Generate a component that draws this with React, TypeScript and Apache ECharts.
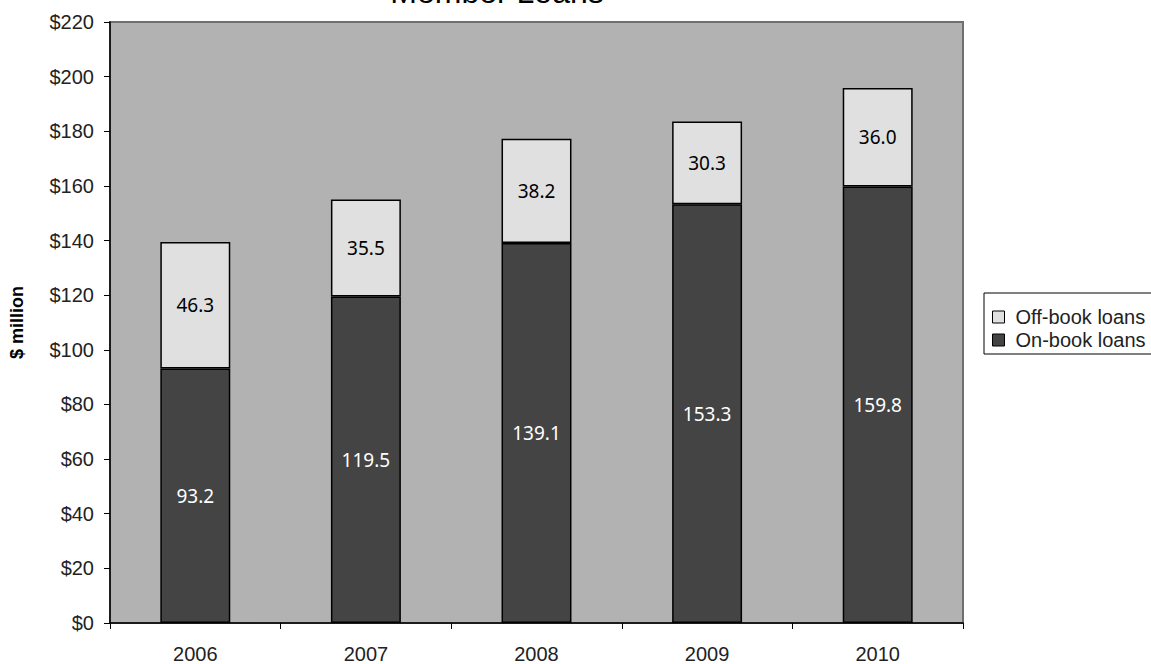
import React, { useEffect, useRef } from "react";
import * as echarts from "echarts";

const years = ["2006", "2007", "2008", "2009", "2010"];
const onBook = [93.2, 119.5, 139.1, 153.3, 159.8];
const offBook = [46.3, 35.5, 38.2, 30.3, 36.0];
const yTicks = { min: 0, max: 220, interval: 20 };

export default function App() {
  const ref = useRef<HTMLDivElement>(null);
  useEffect(() => {
    if (!ref.current) return;
    const chart = echarts.init(ref.current, null, { renderer: "svg" });
    const axisFont = "'Liberation Sans', Arial, sans-serif";
    const labelFont = "'Noto Sans', sans-serif";
    chart.setOption({
      animation: false,
      backgroundColor: "#ffffff",
      graphic: [
        {
          type: "text",
          x: 497,
          y: -8,
          style: {
            text: "Member Loans",
            fontSize: 32,
            fontFamily: axisFont,
            fill: "#000",
            textAlign: "center",
            textVerticalAlign: "middle",
          },
        },
      ],
      legend: {
        orient: "vertical",
        left: 984,
        top: 293,
        data: ["Off-book loans", "On-book loans"],
        borderColor: "#000",
        borderWidth: 1,
        padding: [14, 8, 4, 8],
        itemWidth: 12,
        itemHeight: 12,
        itemGap: 3,
        icon: "rect",
        itemStyle: { borderColor: "#000", borderWidth: 1 },
        textStyle: {
          fontSize: 20,
          fontFamily: axisFont,
          color: "#222",
          lineHeight: 20,
          padding: [0, 0, 0, 6],
        },
      },
      grid: {
        left: 106,
        top: 22,
        right: 188,
        bottom: 40,
        show: true,
        backgroundColor: "#b2b2b2",
        borderColor: "#6f6f6f",
        borderWidth: 2,
      },
      xAxis: {
        type: "category",
        data: years,
        axisLine: { lineStyle: { color: "#000", width: 1.5 } },
        axisTick: { show: true, length: 6, alignWithLabel: false, lineStyle: { color: "#000" } },
        axisLabel: { fontSize: 20, fontFamily: axisFont, color: "#222", margin: 21 },
      },
      yAxis: {
        type: "value",
        min: yTicks.min,
        max: yTicks.max,
        interval: yTicks.interval,
        name: "$ million",
        nameLocation: "middle",
        nameRotate: 90,
        nameGap: 84,
        nameTextStyle: { fontSize: 18, fontWeight: "bold", fontFamily: axisFont, color: "#000" },
        axisLine: { show: true, lineStyle: { color: "#000", width: 1.5 } },
        axisTick: { show: true, length: 6, lineStyle: { color: "#000" } },
        splitLine: { show: false },
        axisLabel: {
          fontSize: 20,
          fontFamily: axisFont,
          color: "#222",
          margin: 16,
          formatter: (v: number) => "$" + v,
        },
      },
      series: [
        {
          name: "On-book loans",
          type: "bar",
          stack: "total",
          data: onBook,
          barWidth: "41%",
          itemStyle: { color: "#444444", borderColor: "#000", borderWidth: 1.5 },
          label: {
            show: true,
            position: "inside",
            color: "#fff",
            fontSize: 19,
            fontFamily: labelFont,
            formatter: (p: any) => Number(p.value).toFixed(1),
          },
        },
        {
          name: "Off-book loans",
          type: "bar",
          stack: "total",
          data: offBook,
          barWidth: "41%",
          itemStyle: { color: "#e0e0e0", borderColor: "#000", borderWidth: 1.5 },
          label: {
            show: true,
            position: "inside",
            color: "#000",
            fontSize: 19,
            fontFamily: labelFont,
            formatter: (p: any) => Number(p.value).toFixed(1),
          },
        },
      ],
    });
    return () => chart.dispose();
  }, []);
  return (
    <div
      ref={ref}
      style={{ position: "absolute", left: 0, top: 0, width: 1151, height: 664 }}
    />
  );
}
